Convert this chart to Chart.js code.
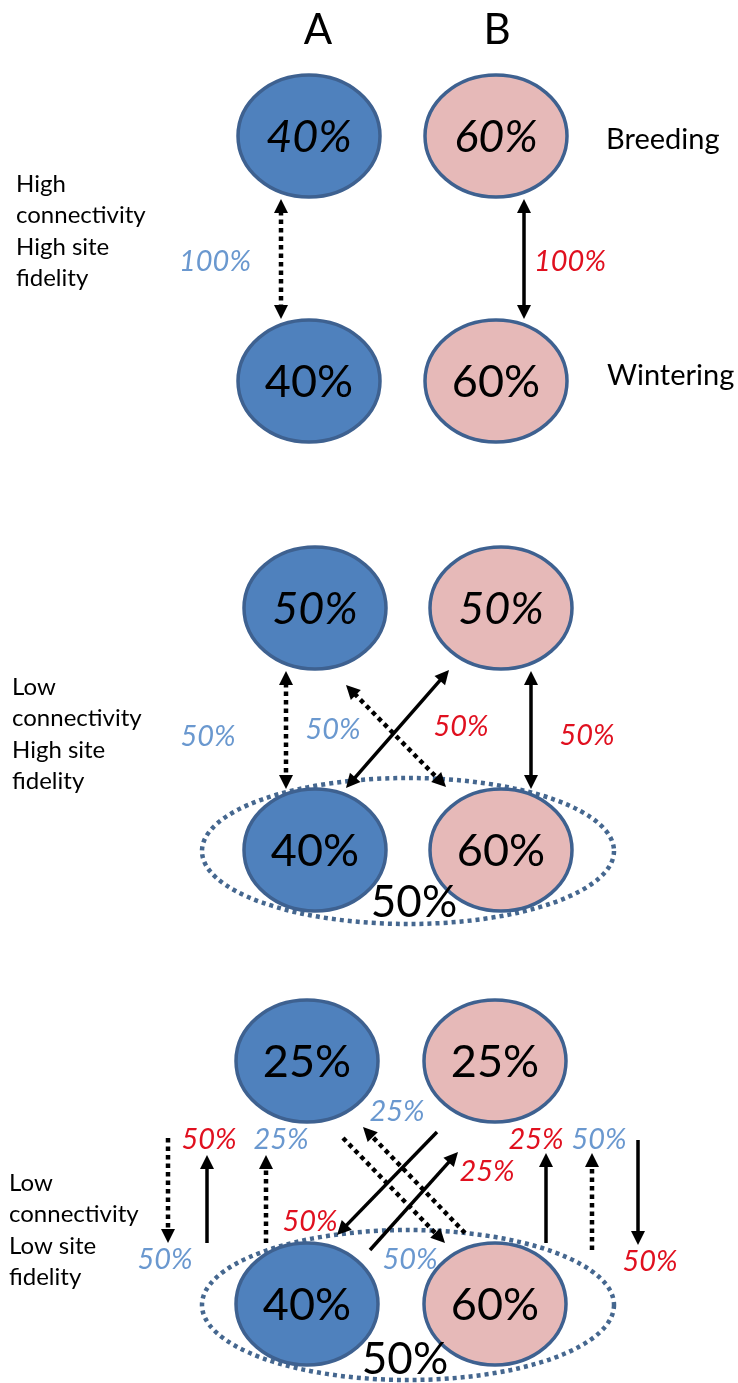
<!DOCTYPE html>
<html><head><meta charset="utf-8">
<script src="https://cdn.jsdelivr.net/npm/chart.js@4.4.1/dist/chart.umd.min.js"></script>
<style>html,body{margin:0;padding:0;background:#fff}canvas{display:block}</style>
</head><body>
<canvas id="c" width="738" height="1383"></canvas>
<script>
// ---------------- data ----------------
const columnLabels = ['A', 'B'];
const seasonLabels = ['Breeding', 'Wintering'];
const scenarioLabels = [
  ['High', 'connectivity', 'High site', 'fidelity'],
  ['Low', 'connectivity', 'High site', 'fidelity'],
  ['Low', 'connectivity', 'Low site', 'fidelity']
];
const breedingA = [40, 50, 25];
const breedingB = [60, 50, 25];
const winteringA = [40, 40, 40];
const winteringB = [60, 60, 60];
const pooledWintering = [null, 50, 50];
// movement percentages (population A = blue/dotted, population B = red/solid)
const flowValues1 = [100, 100];
const flowSeries1 = ['A', 'B'];
const flowValues2 = [50, 50, 50, 50];
const flowSeries2 = ['A', 'A', 'B', 'B'];
const flowValues3 = [50, 25, 25, 25, 50, 25, 50, 50, 50, 50];
const flowSeries3 = ['B', 'A', 'A', 'B', 'A', 'B', 'A', 'B', 'A', 'B'];

// ---------------- layout (scale units) ----------------
const layout = {
  colX: [[309, 496], [315, 501], [307, 495]],
  rowY: [[136, 381], [608, 850], [1061, 1304]],
  nodeRx: 71, nodeRy: 61,
  topItalic: [true, true, false],
  pool: [null, {x: 408, y: 851, rx: 206, ry: 73, lx: 414, ly: 903}, {x: 408, y: 1305, rx: 206, ry: 75, lx: 405, ly: 1360}],
  headerY: 30, headerX: [318, 497],
  seasonPos: [[606, 140], [607, 376]],
  scenarioPos: [[16, 184], [12, 687], [9, 1183]], lineGap: 31.5,
  flowLabelPos: [
    [[215, 262], [570, 262]],
    [[208, 737], [333, 730], [461, 727], [587, 736]],
    [[209, 1140], [281, 1140], [397, 1112], [536, 1140], [599, 1140], [487, 1172], [165, 1260], [310, 1222], [410, 1260], [650, 1262]]
  ],
  // arrows: [x1,y1,x2,y2, dotted, headAtStart, headAtEnd]
  arrows: [
    [281, 199, 281, 319, true, true, true],
    [524, 199, 524, 319, false, true, true],
    [286, 671, 286, 789, true, true, true],
    [346, 685, 446, 787, true, true, true],
    [449, 670, 346, 788, false, true, true],
    [531, 671, 531, 789, false, true, true],
    [168, 1138, 168, 1243, true, false, true],
    [207, 1243, 207, 1155, false, false, true],
    [266, 1243, 266, 1155, true, false, true],
    [465, 1233, 363, 1127, true, false, true],
    [343, 1138, 445, 1243, true, false, true],
    [437, 1132, 337, 1235, false, false, true],
    [370, 1250, 458, 1152, false, false, true],
    [546, 1243, 546, 1153, false, false, true],
    [592, 1250, 592, 1153, true, false, true],
    [638, 1140, 638, 1245, false, false, true]
  ]
};

const FONT = 'Lato, "Open Sans", sans-serif';
const fillA = '#4F81BD', fillB = '#E6B9B8', edge = '#3E6190';
const blueTxt = '#6A98CF', redTxt = '#E0101F';

const flowValues = [flowValues1, flowValues2, flowValues3];
const flowSeries = [flowSeries1, flowSeries2, flowSeries3];

const HEAD_LEN = 14, HEAD_W = 7;
const arrowDatasets = layout.arrows.map(a => {
  const [x1, y1, x2, y2, dotted, hs, he] = a;
  const dx = x2 - x1, dy = y2 - y1, L = Math.hypot(dx, dy);
  const ux = dx / L, uy = dy / L;
  const s = hs ? HEAD_LEN - 2 : 0, e = he ? HEAD_LEN - 2 : 0;
  return {
    type: 'line',
    data: [{x: x1 + ux * s, y: y1 + uy * s}, {x: x2 - ux * e, y: y2 - uy * e}],
    showLine: true, pointRadius: 0,
    borderColor: '#000', borderWidth: dotted ? 4.5 : 3.5,
    borderDash: dotted ? [4.5, 4] : [], borderCapStyle: 'butt', tension: 0
  };
});

const diagramPlugin = {
  id: 'diagram',
  beforeDatasetsDraw(chart) {
    const ctx = chart.ctx, sx = chart.scales.x, sy = chart.scales.y;
    const X = v => sx.getPixelForValue(v), Y = v => sy.getPixelForValue(v);
    const W = v => X(v) - X(0), H = v => Math.abs(Y(v) - Y(0));
    ctx.save();
    layout.pool.forEach((p, i) => {
      if (!p || pooledWintering[i] == null) return;
      ctx.beginPath();
      ctx.ellipse(X(p.x), Y(p.y), W(p.rx), H(p.ry), 0, 0, Math.PI * 2);
      ctx.setLineDash([4, 4]);
      ctx.lineWidth = 4.5;
      ctx.strokeStyle = '#45678F';
      ctx.stroke();
      ctx.setLineDash([]);
    });
    const vals = [[breedingA, breedingB], [winteringA, winteringB]];
    for (let s = 0; s < 3; s++) {
      for (let r = 0; r < 2; r++) {
        for (let c = 0; c < 2; c++) {
          const cx = X(layout.colX[s][c]), cy = Y(layout.rowY[s][r]);
          ctx.beginPath();
          ctx.ellipse(cx, cy, W(layout.nodeRx), H(layout.nodeRy), 0, 0, Math.PI * 2);
          ctx.fillStyle = c === 0 ? fillA : fillB;
          ctx.fill();
          ctx.lineWidth = 3.5;
          ctx.strokeStyle = edge;
          ctx.stroke();
          const italic = r === 0 && layout.topItalic[s];
          ctx.font = (italic ? 'italic ' : '') + '45px ' + FONT;
          ctx.fillStyle = '#000';
          ctx.textAlign = 'center';
          ctx.textBaseline = 'middle';
          ctx.fillText(vals[r][c][s] + '%', cx, cy + 1);
        }
      }
    }
    ctx.restore();
  },
  afterDatasetsDraw(chart) {
    const ctx = chart.ctx, sx = chart.scales.x, sy = chart.scales.y;
    const X = v => sx.getPixelForValue(v), Y = v => sy.getPixelForValue(v);
    ctx.save();
    const head = (tx, ty, fx, fy) => {
      const dx = tx - fx, dy = ty - fy, L = Math.hypot(dx, dy);
      const ux = dx / L, uy = dy / L;
      const bx = tx - ux * HEAD_LEN, by = ty - uy * HEAD_LEN;
      ctx.beginPath();
      ctx.moveTo(tx, ty);
      ctx.lineTo(bx - uy * HEAD_W, by + ux * HEAD_W);
      ctx.lineTo(bx + uy * HEAD_W, by - ux * HEAD_W);
      ctx.closePath();
      ctx.fillStyle = '#000';
      ctx.fill();
    };
    layout.arrows.forEach(a => {
      const [x1, y1, x2, y2, , hs, he] = a;
      if (he) head(X(x2), Y(y2), X(x1), Y(y1));
      if (hs) head(X(x1), Y(y1), X(x2), Y(y2));
    });
    ctx.textAlign = 'center';
    ctx.textBaseline = 'middle';
    ctx.fillStyle = '#000';
    ctx.font = '42px ' + FONT;
    columnLabels.forEach((t, i) => ctx.fillText(t, X(layout.headerX[i]), Y(layout.headerY)));
    ctx.font = '44px ' + FONT;
    layout.pool.forEach((p, i) => {
      if (!p || pooledWintering[i] == null) return;
      ctx.fillText(pooledWintering[i] + '%', X(p.lx), Y(p.ly));
    });
    ctx.textAlign = 'left';
    ctx.font = '29px ' + FONT;
    seasonLabels.forEach((t, i) => ctx.fillText(t, X(layout.seasonPos[i][0]), Y(layout.seasonPos[i][1])));
    ctx.font = '24px ' + FONT;
    scenarioLabels.forEach((lines, s) => {
      lines.forEach((t, k) => ctx.fillText(t, X(layout.scenarioPos[s][0]), Y(layout.scenarioPos[s][1] + k * layout.lineGap)));
    });
    ctx.textAlign = 'center';
    ctx.font = 'italic 29px ' + FONT;
    flowValues.forEach((vals, s) => {
      vals.forEach((v, k) => {
        const p = layout.flowLabelPos[s][k];
        ctx.fillStyle = flowSeries[s][k] === 'A' ? blueTxt : redTxt;
        ctx.fillText(v + '%', X(p[0]), Y(p[1]));
      });
    });
    ctx.restore();
  }
};

new Chart(document.getElementById('c'), {
  type: 'scatter',
  data: { datasets: arrowDatasets },
  options: {
    responsive: false,
    animation: false,
    events: [],
    layout: { padding: 0 },
    plugins: { legend: { display: false }, tooltip: { enabled: false } },
    scales: {
      x: { type: 'linear', min: 0, max: 738, display: false },
      y: { type: 'linear', min: 0, max: 1383, reverse: true, display: false }
    }
  },
  plugins: [diagramPlugin]
});
</script>
</body></html>
